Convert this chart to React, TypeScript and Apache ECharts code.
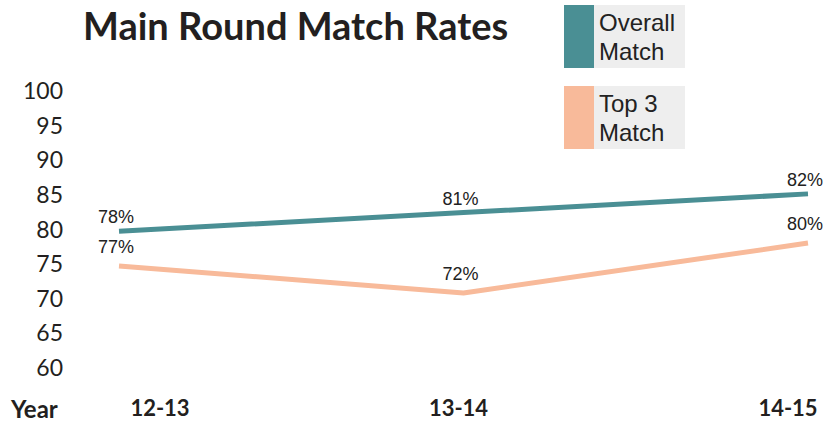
import React, { useEffect, useRef } from "react";
import * as echarts from "echarts";

const years = ["12-13", "13-14", "14-15"];
const overallValues = [79.6, 82.3, 85.0];
const top3Values = [74.6, 70.7, 77.9];
const overallLabels = ["78%", "81%", "82%"];
const top3Labels = ["77%", "72%", "80%"];
const yTicks = { min: 60, max: 100, interval: 5 };

const TEAL = "#4A8F94";
const SALMON = "#F8BA9A";
const GEO = "Lato, 'DejaVu Sans', sans-serif";
const ARIAL = "'Liberation Sans', Arial, sans-serif";

export default function App() {
  const ref = useRef<HTMLDivElement>(null);
  useEffect(() => {
    if (!ref.current) return;
    const chart = echarts.init(ref.current, undefined, { renderer: "svg" });
    const legendBase = {
      orient: "vertical" as const,
      left: 564,
      padding: 0,
      itemGap: 0,
      itemWidth: 30,
      itemHeight: 63,
      icon: "rect",
      backgroundColor: "#EEEEEE",
      selectedMode: false,
      textStyle: {
        fontFamily: ARIAL,
        fontSize: 24,
        lineHeight: 29,
        color: "#222",
        width: 86,
      },
    };
    const xPad = [[0, 0, 0, 82], [0, 10, 0, 0], [0, 40, 0, 0]];
    const labelStyle = (distance: number) => ({
      show: true,
      position: "top",
      distance,
      offset: [-3, 0],
      fontFamily: ARIAL,
      fontSize: 18,
      color: "#222",
    });
    chart.setOption({
      animation: false,
      backgroundColor: "#ffffff",
      title: [
        {
          text: "Main Round Match Rates",
          left: 78,
          top: 1,
          textStyle: { fontFamily: GEO, fontWeight: "bold", fontSize: 38, color: "#231F20" },
        },
        {
          text: "Year",
          left: 6,
          top: 391,
          textStyle: { fontFamily: GEO, fontWeight: "bold", fontSize: 24, color: "#231F20" },
        },
      ],
      legend: [
        { ...legendBase, top: 5, data: ["Overall Match"], formatter: () => "Overall\nMatch" },
        { ...legendBase, top: 86, data: ["Top 3 Match"], formatter: () => "Top 3\nMatch" },
      ],
      grid: { left: 119, right: 21, top: 90, bottom: 56 },
      xAxis: {
        type: "category",
        data: years,
        boundaryGap: false,
        axisLine: { show: false },
        axisTick: { show: false },
        splitLine: { show: false },
        axisLabel: {
          margin: 29,
          color: "#231F20",
          formatter: (v: string, i: number) => `{c${i}|${v}}`,
          rich: Object.fromEntries(
            xPad.map((p, i) => [
              `c${i}`,
              { fontFamily: GEO, fontWeight: "bold", fontSize: 22, color: "#231F20", padding: p },
            ])
          ),
        },
      },
      yAxis: {
        type: "value",
        min: yTicks.min,
        max: yTicks.max,
        interval: yTicks.interval,
        axisLine: { show: false },
        axisTick: { show: false },
        splitLine: { show: false },
        axisLabel: { margin: 56, fontFamily: GEO, fontSize: 23, color: "#231F20" },
      },
      series: [
        {
          name: "Overall Match",
          type: "line",
          data: overallValues,
          symbol: "circle",
          symbolSize: 0,
          showSymbol: true,
          lineStyle: { color: TEAL, width: 5 },
          itemStyle: { color: TEAL },
          label: { ...labelStyle(5), formatter: (p: any) => overallLabels[p.dataIndex] },
        },
        {
          name: "Top 3 Match",
          type: "line",
          data: top3Values,
          symbol: "circle",
          symbolSize: 0,
          showSymbol: true,
          lineStyle: { color: SALMON, width: 5 },
          itemStyle: { color: SALMON },
          label: { ...labelStyle(10), formatter: (p: any) => top3Labels[p.dataIndex] },
        },
      ],
    });
    return () => chart.dispose();
  }, []);
  return <div ref={ref} style={{ width: 829, height: 423, position: "absolute", left: 0, top: 0 }} />;
}
